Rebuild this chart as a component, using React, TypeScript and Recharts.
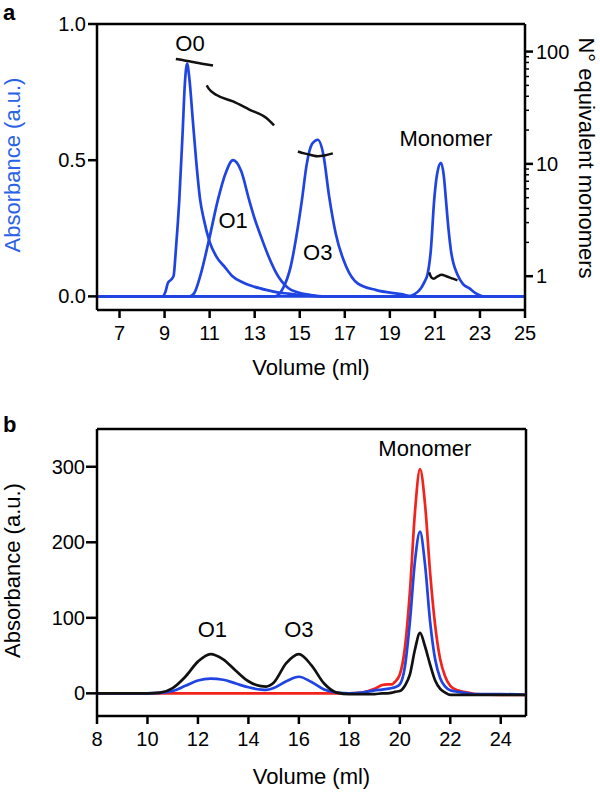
import React from 'react';
import { LineChart, Line, XAxis, YAxis, Label, ReferenceDot, ReferenceLine } from 'recharts';

const FONT = '"Liberation Sans", Arial, Helvetica, sans-serif';
const BLUE = '#1f44e2';
const BLUE_TEXT = '#2a62e6';
const RED = '#f2231b';
const BLACK = '#111111';

// ---- panel a: SEC absorbance traces (left axis) ----
const o0Vol = [6, 8.9, 9.05, 9.15, 9.3, 9.4, 9.5, 9.65, 9.8, 9.9, 10.0, 10.1, 10.25, 10.4, 10.57, 10.75, 11.0, 11.3, 11.7, 12.0, 12.5, 13.0, 13.5, 14.0, 14.5, 15.0, 16.0, 25];
const o0Abs = [0, 0, 0.02, 0.05, 0.062, 0.075, 0.17, 0.35, 0.6, 0.78, 0.855, 0.8, 0.65, 0.5, 0.36, 0.28, 0.2, 0.146, 0.105, 0.075, 0.05, 0.035, 0.024, 0.015, 0.01, 0.005, 0, 0];

const o1Vol = [6, 10.1, 10.3, 10.6, 10.97, 11.37, 11.7, 12.04, 12.4, 12.75, 13.0, 13.3, 13.6, 13.9, 14.2, 14.5, 14.9, 15.5, 16.0, 25];
const o1Abs = [0, 0, 0.01, 0.08, 0.207, 0.355, 0.45, 0.5, 0.46, 0.355, 0.285, 0.215, 0.15, 0.095, 0.055, 0.03, 0.015, 0.005, 0, 0];

const o3Vol = [6, 13.9, 14.26, 14.6, 14.85, 15.1, 15.3, 15.55, 15.8, 16.05, 16.3, 16.6, 17.06, 17.57, 18.4, 19.5, 20.0, 25];
const o3Abs = [0, 0, 0.03, 0.11, 0.22, 0.355, 0.48, 0.56, 0.575, 0.52, 0.37, 0.23, 0.11, 0.048, 0.023, 0.008, 0, 0];

const monVol = [6, 19.8, 20.1, 20.38, 20.55, 20.67, 20.82, 20.97, 21.1, 21.27, 21.4, 21.49, 21.6, 21.71, 22.0, 22.25, 22.52, 22.8, 23.2, 25];
const monAbs = [0, 0, 0.008, 0.03, 0.055, 0.08, 0.17, 0.355, 0.45, 0.49, 0.44, 0.355, 0.25, 0.17, 0.08, 0.045, 0.03, 0.012, 0, 0];

// ---- panel a: N° equivalent monomers (right, log axis) ----
const n0Vol = [9.5, 9.8, 10.1, 10.5, 10.8, 11.15];
const n0Val = [86, 84, 82, 79, 77, 75];
const n1Vol = [10.87, 10.95, 11.31, 12.04, 12.78, 13.52, 13.86];
const n1Val = [50, 47, 41, 36, 30.3, 25.6, 22];
const n3Vol = [14.92, 15.2, 15.5, 15.8, 16.1, 16.47];
const n3Val = [12.9, 12.4, 12.0, 11.7, 11.9, 12.4];
const nMVol = [20.75, 20.85, 20.95, 21.1, 21.3, 21.5, 21.8, 22.0];
const nMVal = [1.08, 0.97, 0.95, 0.99, 1.03, 1.0, 0.95, 0.92];

const aXTicks = [7, 9, 11, 13, 15, 17, 19, 21, 23, 25];
const aYTicks = [0, 0.5, 1.0];
const nMajor = [1, 10, 100];
const nTicks = [1, 2, 3, 4, 5, 6, 7, 8, 9, 10, 20, 30, 40, 50, 60, 70, 80, 90, 100];

// ---- panel b ----
const volB = [8, 9, 10, 10.5, 11, 11.5, 12, 12.5, 13, 13.5, 14, 14.5, 14.7, 15, 15.5, 16, 16.5, 17, 17.5, 18, 18.5, 19, 19.3, 19.5, 19.7, 19.8, 20.0, 20.2, 20.4, 20.6, 20.8, 21.0, 21.2, 21.4, 21.6, 21.8, 22.0, 22.3, 22.7, 23, 24, 25];
const redB = [0, 0, 0, 0, 0, 0, 0, 0, 0, 0, 0, 0, 0, 0, 0, 0, 0, 0, 0, 0, 1, 6, 11, 12, 12, 15, 25, 60, 135, 240, 297, 250, 160, 90, 45, 22, 10, 4, 1, -1, -2, -2];
const blueB = [0, 0, 0, 0.5, 3, 10, 17, 19.5, 18, 13, 8, 5, 4.5, 7, 16, 22, 15, 5, 1, 0, 1, 4, 5, 6, 7, 8, 12, 35, 95, 175, 214, 170, 95, 45, 20, 9, 4, 2, 0, -1, -1, -2];
const blackB = [0, 0, 0, 1, 7, 22, 42, 52, 45, 30, 16, 9.5, 9, 14, 40, 52, 37, 13, 1, -1, -1, -1, 0, 0, 1, 2, 3, 10, 25, 58, 80, 62, 38, 17, 6, 1, -2, -2, -2, -2, -2, -2];

const bXTicks = [8, 10, 12, 14, 16, 18, 20, 22, 24];
const bYTicks = [0, 100, 200, 300];

const zip = (xs: number[], ys: number[]) => xs.map((x, i) => ({ x, y: ys[i] }));
const dataB = volB.map((v, i) => ({ x: v, red: redB[i], blue: blueB[i], black: blackB[i] }));

// panel a layout
const A_W = 600;
const A_H = 380;
const A_MARGIN = { top: 24, right: 30, left: 37, bottom: 30 };
const A_LEFT_W = 60;
const A_RIGHT_W = 45;
const A_PLOT_X = A_MARGIN.left + A_LEFT_W;
const A_PLOT_W = A_W - A_MARGIN.left - A_MARGIN.right - A_LEFT_W - A_RIGHT_W;

const tickStyle = { fontSize: 20, fill: '#000', fontFamily: FONT };
const axisLine = { stroke: '#000', strokeWidth: 2.5 };
const tickLineStyle = { stroke: '#000', strokeWidth: 2.5 };

// rotated axis title drawn from the axis box
const VTitle = (props: any) => {
  const { viewBox, text, dx, dy, angle, color } = props;
  const cx = angle < 0 ? viewBox.x - dx : viewBox.x + viewBox.width + dx;
  const cy = viewBox.y + viewBox.height / 2 + dy;
  return (
    <text
      transform={`translate(${cx}, ${cy}) rotate(${angle})`}
      textAnchor="middle"
      dy="0.355em"
      fontSize={22}
      fontFamily={FONT}
      fill={color}
    >
      {text}
    </text>
  );
};

// right log axis: long ticks with labels at decades, short ticks between
const LogTick = (props: any) => {
  const { x, y, payload } = props;
  const major = nMajor.includes(payload.value);
  return (
    <g>
      <line x1={x} x2={x + (major ? 8 : 4)} y1={y} y2={y} stroke="#000" strokeWidth={major ? 2.5 : 1.5} />
      {major && (
        <text x={x + 11} y={y} dy="0.355em" fontSize={20} fontFamily={FONT} fill="#000">
          {payload.value}
        </text>
      )}
    </g>
  );
};

const annot = (value: string) => ({ value, position: 'center' as const, fontSize: 22, fill: '#000', fontFamily: FONT });

const App: React.FC = () => {
  return (
    <div style={{ position: 'absolute', left: 0, top: 0, width: 600, height: 792, background: '#fff', fontFamily: FONT }}>
      {/* Panel a */}
      <div style={{ position: 'absolute', left: 0, top: 0 }}>
        <LineChart width={A_W} height={A_H} margin={A_MARGIN}>
          <XAxis
            dataKey="x"
            type="number"
            domain={[6, 25]}
            ticks={aXTicks}
            interval={0}
            tick={tickStyle}
            tickSize={8}
            tickMargin={8}
            axisLine={axisLine}
            tickLine={tickLineStyle}
            height={40}
            allowDataOverflow
          >
            <Label value="Volume (ml)" position="bottom" offset={9} fontSize={22} fill="#000" fontFamily={FONT} />
          </XAxis>
          <YAxis
            yAxisId="abs"
            type="number"
            domain={[-0.05, 1.0]}
            ticks={aYTicks}
            interval={0}
            tickFormatter={(v: number) => v.toFixed(1)}
            tick={tickStyle}
            tickSize={9}
            tickMargin={2}
            axisLine={axisLine}
            tickLine={tickLineStyle}
            width={A_LEFT_W}
            allowDataOverflow
          >
            <Label content={(p: any) => <VTitle {...p} text="Absorbance (a.u.)" dx={24.5} dy={-2} angle={-90} color={BLUE_TEXT} />} />
          </YAxis>
          <YAxis
            yAxisId="n"
            orientation="right"
            type="number"
            scale="log"
            domain={[0.5, 176]}
            ticks={nTicks}
            interval={0}
            tick={<LogTick />}
            tickSize={0}
            tickMargin={0}
            tickLine={false}
            axisLine={axisLine}
            width={A_RIGHT_W}
            allowDataOverflow
          >
            <Label content={(p: any) => <VTitle {...p} text="N° equivalent monomers" dx={17} dy={-9} angle={90} color="#000" />} />
          </YAxis>

          <Line yAxisId="abs" data={zip(o0Vol, o0Abs)} dataKey="y" type="monotone" stroke={BLUE} strokeWidth={2.7} dot={false} activeDot={false} isAnimationActive={false} />
          <Line yAxisId="abs" data={zip(o1Vol, o1Abs)} dataKey="y" type="monotone" stroke={BLUE} strokeWidth={2.7} dot={false} activeDot={false} isAnimationActive={false} />
          <Line yAxisId="abs" data={zip(o3Vol, o3Abs)} dataKey="y" type="monotone" stroke={BLUE} strokeWidth={2.7} dot={false} activeDot={false} isAnimationActive={false} />
          <Line yAxisId="abs" data={zip(monVol, monAbs)} dataKey="y" type="monotone" stroke={BLUE} strokeWidth={2.7} dot={false} activeDot={false} isAnimationActive={false} />

          <Line yAxisId="n" data={zip(n0Vol, n0Val)} dataKey="y" type="monotone" stroke={BLACK} strokeWidth={2.5} dot={false} activeDot={false} isAnimationActive={false} />
          <Line yAxisId="n" data={zip(n1Vol, n1Val)} dataKey="y" type="monotone" stroke={BLACK} strokeWidth={2.5} dot={false} activeDot={false} isAnimationActive={false} />
          <Line yAxisId="n" data={zip(n3Vol, n3Val)} dataKey="y" type="monotone" stroke={BLACK} strokeWidth={2.5} dot={false} activeDot={false} isAnimationActive={false} />
          <Line yAxisId="n" data={zip(nMVol, nMVal)} dataKey="y" type="monotone" stroke={BLACK} strokeWidth={2.5} dot={false} activeDot={false} isAnimationActive={false} />

          <ReferenceDot yAxisId="abs" x={10.13} y={0.93} r={0} fill="none" stroke="none" label={annot('O0')} />
          <ReferenceDot yAxisId="abs" x={12.04} y={0.28} r={0} fill="none" stroke="none" label={annot('O1')} />
          <ReferenceDot yAxisId="abs" x={15.8} y={0.164} r={0} fill="none" stroke="none" label={annot('O3')} />
          <ReferenceDot yAxisId="abs" x={21.49} y={0.58} r={0} fill="none" stroke="none" label={annot('Monomer')} />
        </LineChart>
      </div>

      {/* Panel b */}
      <div style={{ position: 'absolute', left: 0, top: 380 }}>
        <LineChart width={600} height={412} data={dataB} margin={{ top: 49, right: 74, left: 37, bottom: 36 }}>
          <XAxis
            dataKey="x"
            type="number"
            domain={[8, 25]}
            ticks={bXTicks}
            interval={0}
            tick={tickStyle}
            tickSize={8}
            tickMargin={8}
            axisLine={axisLine}
            tickLine={tickLineStyle}
            height={40}
            allowDataOverflow
          >
            <Label value="Volume (ml)" position="bottom" offset={12} fontSize={22} fill="#000" fontFamily={FONT} />
          </XAxis>
          <YAxis
            type="number"
            domain={[-30, 350]}
            ticks={bYTicks}
            interval={0}
            tick={tickStyle}
            tickSize={11}
            tickMargin={1}
            axisLine={axisLine}
            tickLine={tickLineStyle}
            width={60}
            allowDataOverflow
          >
            <Label content={(p: any) => <VTitle {...p} text="Absorbance (a.u.)" dx={24.5} dy={-2} angle={-90} color="#000" />} />
          </YAxis>

          {/* top and right frame lines */}
          <ReferenceLine y={350} stroke="#000" strokeWidth={2.5} />
          <ReferenceLine x={25} stroke="#000" strokeWidth={2.5} />

          <Line dataKey="red" type="monotone" stroke={RED} strokeWidth={2.7} dot={false} activeDot={false} isAnimationActive={false} />
          <Line dataKey="blue" type="monotone" stroke={BLUE} strokeWidth={2.7} dot={false} activeDot={false} isAnimationActive={false} />
          <Line dataKey="black" type="monotone" stroke={BLACK} strokeWidth={2.7} dot={false} activeDot={false} isAnimationActive={false} />

          <ReferenceDot x={12.57} y={85} r={0} fill="none" stroke="none" label={annot('O1')} />
          <ReferenceDot x={16.0} y={85} r={0} fill="none" stroke="none" label={annot('O3')} />
          <ReferenceDot x={20.99} y={324} r={0} fill="none" stroke="none" label={annot('Monomer')} />
        </LineChart>
      </div>

      {/* panel letters + top frame edge of panel a */}
      <svg width={600} height={792} style={{ position: 'absolute', left: 0, top: 0, pointerEvents: 'none' }}>
        <line x1={A_PLOT_X} x2={A_PLOT_X + A_PLOT_W} y1={A_MARGIN.top} y2={A_MARGIN.top} stroke="#000" strokeWidth={2.5} />
        <text x={3} y={20} fontSize={22} fontWeight="bold" fontFamily={FONT} fill="#000">a</text>
        <text x={3} y={432} fontSize={22} fontWeight="bold" fontFamily={FONT} fill="#000">b</text>
      </svg>
    </div>
  );
};

export default App;
